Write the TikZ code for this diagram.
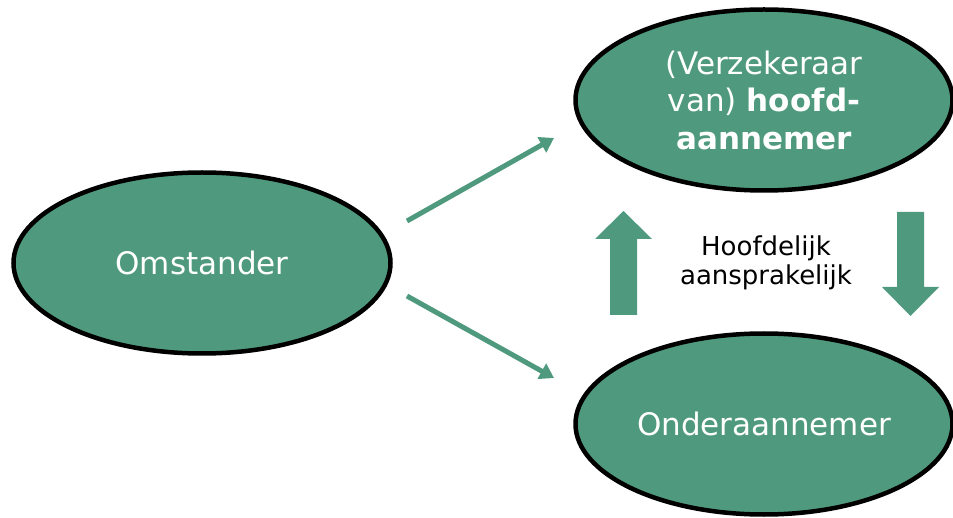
\documentclass[tikz,border=0pt]{standalone}
\usepackage{fontspec}
\setmainfont{DejaVu Sans}
\usetikzlibrary{arrows.meta,shapes.geometric}
\definecolor{dgreen}{HTML}{4F9A7E}
\begin{document}
\begin{tikzpicture}[x=1pt,y=-1pt,
  oval/.style={draw=black,line width=4.5pt,fill=dgreen,ellipse,inner sep=0pt,minimum width=377pt,minimum height=181pt,text=white,font=\fontsize{31}{37.5}\selectfont,align=center},
  thinarrow/.style={draw=dgreen,line width=5pt,-{Triangle[length=14pt,width=17pt]}},
  blockarrow/.style={fill=dgreen,draw=none}]
\useasboundingbox (0,0) rectangle (953,518);
\node[oval] (omst) at (202,263) {Omstander};
\node[oval] (hoofd) at (764,100) {(Verzekeraar\\van) \textbf{hoofd-}\\\textbf{aannemer}};
\node[oval] (onder) at (764,424) {Onderaannemer};
\coordinate (a1s) at (407,221);
\coordinate (a1e) at (554,138);
\coordinate (a2s) at (407,296);
\coordinate (a2e) at (554,378);
\draw[thinarrow] (a1s) -- (a1e);
\draw[thinarrow] (a2s) -- (a2e);
\fill[blockarrow] (610,315) -- (610,239) -- (595,239) -- (623.5,211) -- (652,239) -- (637,239) -- (637,315) -- cycle;
\fill[blockarrow] (897,212) -- (924,212) -- (924,287) -- (939,287) -- (910.5,316) -- (882,287) -- (897,287) -- cycle;
\node[font=\fontsize{26}{29}\selectfont,align=center,text=black] (label) at (766,263) {Hoofdelijk\\aansprakelijk};
\end{tikzpicture}
\end{document}
